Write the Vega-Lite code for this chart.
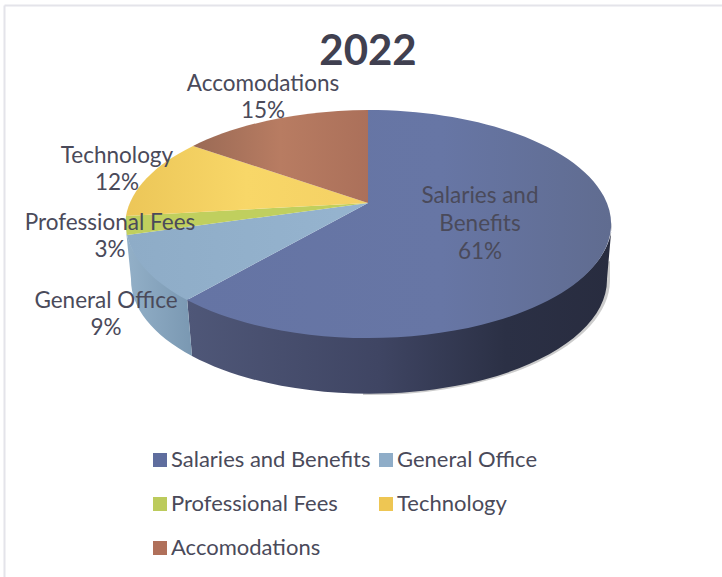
{
"$schema":"https://vega.github.io/schema/vega-lite/v6.json",
"width":718,"height":572,
"autosize":{"type":"none"},
"padding":{"left":4,"top":5,"right":0,"bottom":0},
"background":"white",
"config":{"view":{"stroke":null}},
"title":{"text":"2022","anchor":"middle","frame":"group","font":"Lato","fontWeight":"bold","fontSize":42,"color":"#404050","offset":0,"dx":5,"dy":69},
"data":{"values":[
{"category":"Salaries and Benefits","percent":61,"label":"Salaries and|Benefits|61%"},
{"category":"General Office","percent":9,"label":"General Office|9%"},
{"category":"Professional Fees","percent":3,"label":"Professional Fees|3%"},
{"category":"Technology","percent":12,"label":"Technology|12%"},
{"category":"Accomodations","percent":15,"label":"Accomodations|15%"}
]},
"layer":[
{"mark":{"type":"square","size":0},
 "encoding":{
  "x":{"datum":0,"type":"quantitative","scale":{"domain":[0,1]},"axis":{"orient":"top","domain":true,"domainColor":"#e4e4ea","domainWidth":2,"ticks":false,"labels":false,"title":null,"grid":false}},
  "y":{"datum":1,"type":"quantitative","scale":{"domain":[0,1]},"axis":{"orient":"left","domain":true,"domainColor":"#e4e4ea","domainWidth":2,"ticks":false,"labels":false,"title":null,"grid":false}},
  "color":{"field":"category","type":"nominal","sort":null,
   "scale":{"domain":["Salaries and Benefits","General Office","Professional Fees","Technology","Accomodations"],"range":["#5f6d9e","#8fadc8","#bccb5c","#eec653","#b0705a"]},
   "legend":{"orient":"none","legendX":145,"legendY":444,"columns":2,"direction":"horizontal","title":null,"symbolType":"square","symbolSize":196,"symbolOpacity":1,"symbolStrokeWidth":0,"labelFont":"Lato","labelFontSize":22,"labelColor":"#4a4a5a","labelLimit":400,"labelOffset":0,"rowPadding":22,"columnPadding":4,"gridAlign":"each"}}
 }},
{"transform":[{"filter":"datum.category==='Salaries and Benefits'"}],
 "mark":{"type":"point","filled":true,"size":4,"opacity":0.2,"strokeWidth":0,
  "shape":"M247,-30L247,-10A240,115 0 0 1 0,104L0,60Z",
  "fill":"#000000"},
 "encoding":{}},
{"transform":[{"filter":"datum.category==='Salaries and Benefits'"}],
 "mark":{"type":"point","filled":true,"size":4,"opacity":1,"strokeWidth":0,
  "shape":"M249,-69L244,-12A238,114 0 0 1 -171,65L-176,7A243,114 0 0 0 249,-69Z",
  "fill":{"gradient":"linear","x1":0,"y1":0,"x2":1,"y2":0,"stops":[{"offset":0,"color":"#4f5778"},{"offset":0.45,"color":"#3f4563"},{"offset":0.75,"color":"#2b3045"},{"offset":1,"color":"#282c3f"}]}},
 "encoding":{}},
{"transform":[{"filter":"datum.category==='General Office'"}],
 "mark":{"type":"point","filled":true,"size":4,"opacity":1,"strokeWidth":0,
  "shape":"M-176,7L-171,65A238,114 0 0 1 -232,-12L-237,-61A243,114 0 0 0 -176,7Z",
  "fill":{"gradient":"linear","x1":0,"y1":0,"x2":1,"y2":0,"stops":[{"offset":0,"color":"#93b0c8"},{"offset":1,"color":"#7a98b2"}]}},
 "encoding":{}},
{"transform":[{"filter":"datum.category==='Salaries and Benefits'"}],
 "mark":{"type":"point","filled":true,"size":4,"opacity":1,"strokeWidth":0,
  "shape":"M5,-88L5,-181A243,114 0 1 1 -176,9Z",
  "fill":{"gradient":"linear","x1":0,"y1":0,"x2":1,"y2":0,"stops":[{"offset":0,"color":"#6574a4"},{"offset":0.6,"color":"#6776a5"},{"offset":1,"color":"#606c90"}]}},
 "encoding":{}},
{"transform":[{"filter":"datum.category==='General Office'"}],
 "mark":{"type":"point","filled":true,"size":4,"opacity":1,"strokeWidth":0,
  "shape":"M5,-88L-176,9A243,114 0 0 1 -236,-56Z",
  "fill":{"gradient":"linear","x1":0,"y1":0,"x2":1,"y2":0,"stops":[{"offset":0,"color":"#8eacc7"},{"offset":1,"color":"#96b4cf"}]}},
 "encoding":{}},
{"transform":[{"filter":"datum.category==='Professional Fees'"}],
 "mark":{"type":"point","filled":true,"size":4,"opacity":1,"strokeWidth":0,
  "shape":"M5,-88L-236,-56A243,114 0 0 1 -237,-75Z",
  "fill":"#c0cf5e"},
 "encoding":{}},
{"transform":[{"filter":"datum.category==='Technology'"}],
 "mark":{"type":"point","filled":true,"size":4,"opacity":1,"strokeWidth":0,
  "shape":"M5,-88L-237,-75A243,114 0 0 1 -170,-145Z",
  "fill":{"gradient":"linear","x1":0,"y1":0,"x2":1,"y2":0,"stops":[{"offset":0,"color":"#ecc658"},{"offset":0.5,"color":"#f8d768"},{"offset":1,"color":"#f4d064"}]}},
 "encoding":{}},
{"transform":[{"filter":"datum.category==='Accomodations'"}],
 "mark":{"type":"point","filled":true,"size":4,"opacity":1,"strokeWidth":0,
  "shape":"M5,-88L-170,-145A243,114 0 0 1 5,-181Z",
  "fill":{"gradient":"linear","x1":0,"y1":0,"x2":1,"y2":0,"stops":[{"offset":0,"color":"#9a6a55"},{"offset":0.5,"color":"#b87c62"},{"offset":1,"color":"#ab705a"}]}},
 "encoding":{}},
{"transform":[{"filter":"datum.category==='Accomodations'"}],
 "mark":{"type":"text","font":"Lato","fontSize":22.5,"color":"#4a4a5a","align":"center","baseline":"top","lineBreak":"|","lineHeight":27,"dx":-100,"dy":-218},
 "encoding":{"text":{"field":"label"}}},
{"transform":[{"filter":"datum.category==='Technology'"}],
 "mark":{"type":"text","font":"Lato","fontSize":22.5,"color":"#4a4a5a","align":"center","baseline":"top","lineBreak":"|","lineHeight":27,"dx":-246,"dy":-146},
 "encoding":{"text":{"field":"label"}}},
{"transform":[{"filter":"datum.category==='Professional Fees'"}],
 "mark":{"type":"text","font":"Lato","fontSize":22.5,"color":"#4a4a5a","align":"center","baseline":"top","lineBreak":"|","lineHeight":27,"dx":-253,"dy":-79},
 "encoding":{"text":{"field":"label"}}},
{"transform":[{"filter":"datum.category==='General Office'"}],
 "mark":{"type":"text","font":"Lato","fontSize":22.5,"color":"#4a4a5a","align":"center","baseline":"top","lineBreak":"|","lineHeight":27,"dx":-257,"dy":-1},
 "encoding":{"text":{"field":"label"}}},
{"transform":[{"filter":"datum.category==='Salaries and Benefits'"}],
 "mark":{"type":"text","font":"Lato","fontSize":22.5,"color":"#4a4a5a","align":"center","baseline":"top","lineBreak":"|","lineHeight":28,"dx":117,"dy":-106},
 "encoding":{"text":{"field":"label"}}}
],
"resolve":{"scale":{"x":"independent","y":"independent"}}
}
